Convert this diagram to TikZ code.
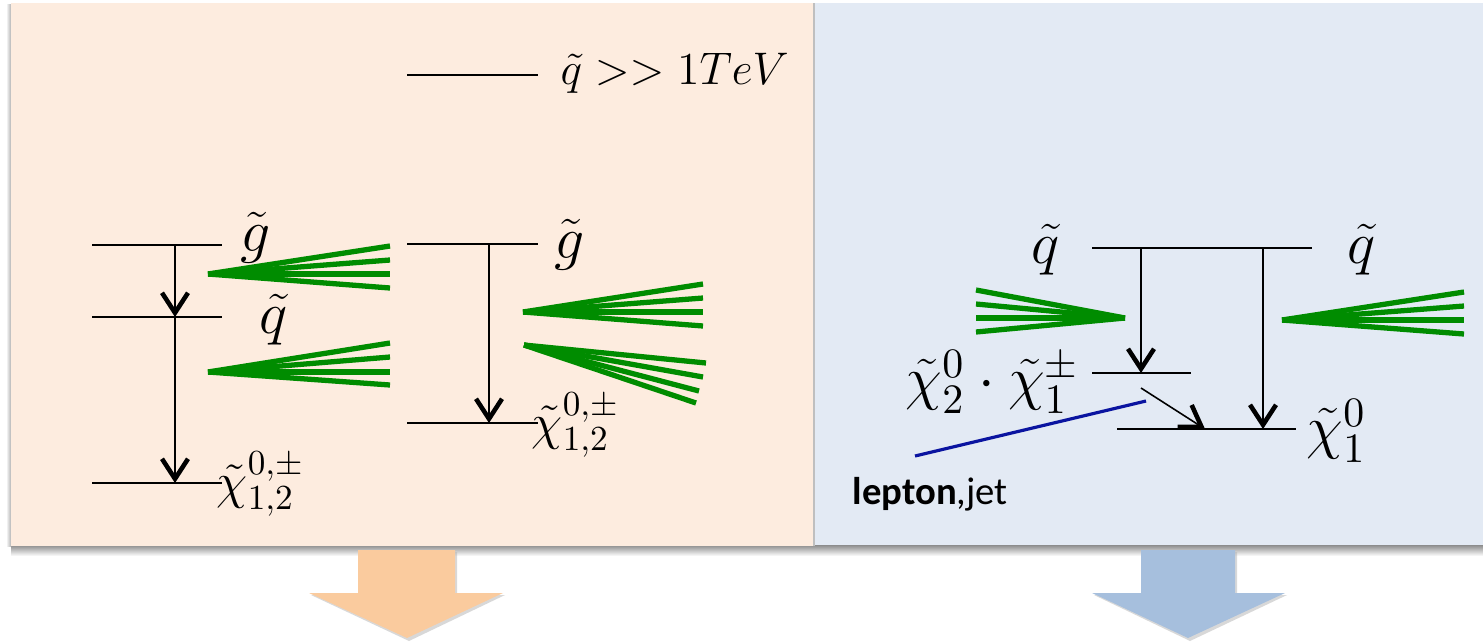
\RequirePackage{fix-cm}
\documentclass[tikz,border=0pt]{standalone}
\usepackage{fontspec}
\newfontfamily\calibri{Carlito}
\usetikzlibrary{arrows.meta,positioning}
\definecolor{peach}{RGB}{253,236,223}
\definecolor{paleblue}{RGB}{227,234,244}
\definecolor{orangearr}{RGB}{250,203,158}
\definecolor{bluearr}{RGB}{166,191,221}
\definecolor{jetgreen}{RGB}{0,140,0}
\definecolor{lepblue}{RGB}{10,20,160}

\begin{document}
\begin{tikzpicture}[
  x=0.01cm, y=-0.01cm,
  >={Straight Barb[length=2mm,width=2.6mm,line width=1.3pt]},
  lvl/.style  = {line width=0.6pt},
  dk/.style   = {->, line width=0.45pt},
  jet/.style  = {jetgreen, line width=1.5pt},
  mlbl/.style = {font=\fontsize{14.4}{16}\selectfont, inner sep=0pt},
  blbl/.style = {font=\fontsize{17}{19}\selectfont, inner sep=0pt},
  tlbl/.style = {font=\fontsize{13}{15}\selectfont, inner sep=0pt},
  slbl/.style = {font=\calibri\fontsize{11}{13}\selectfont, inner sep=0pt},
]
\useasboundingbox (0,0) rectangle (1483,642);

%% ---- panels and shadows --------------------------------------------------
\shade[top color=black!45, bottom color=white] (11,545) rectangle (1483,556);
\shade[left color=white, right color=black!30] (6,4) rectangle (11,546);
\fill[peach] (11,3) rectangle (813,546);
\fill[black!25] (813,3) rectangle (815,546);
\fill[paleblue] (815,3) rectangle (1483,545);

%% ---- big arrows ----------------------------------------------------------
\fill[black!30, opacity=0.5] (360,552) -- (457,552) -- (457,595) -- (505,595)
  -- (409,641) -- (311,595) -- (360,595) -- cycle;
\fill[orangearr] (358,550) -- (455,550) -- (455,593) -- (503,593)
  -- (407,638) -- (309,593) -- (358,593) -- cycle;
\fill[black!30, opacity=0.5] (1143,552) -- (1237,552) -- (1237,595) -- (1287,595)
  -- (1190,641) -- (1094,595) -- (1143,595) -- cycle;
\fill[bluearr] (1141,550) -- (1235,550) -- (1235,593) -- (1285,593)
  -- (1188,638) -- (1092,593) -- (1141,593) -- cycle;

%% ---- heavy squark --------------------------------------------------------
\draw[lvl] (407,75) -- (538,75);
\node[tlbl, anchor=west] (sqheavy) at (560,73) {$\tilde{q} >> 1TeV$};

%% ---- left cascade: gluino -> squark -> chargino/neutralino --------------
\coordinate (gl) at (175,245);
\coordinate (ql) at (175,317);
\coordinate (cl) at (175,483);
\draw[lvl] (92,245) -- (222,245);
\draw[lvl] (92,317) -- (222,317);
\draw[lvl] (92,483) -- (222,483);
\draw[dk] (gl) -- (ql);
\draw[dk] (ql) -- (cl);
\node[blbl] (glA) at (256,238) {$\tilde{g}$};
\node[blbl] (sqA) at (274,320) {$\tilde{q}$};
\node[mlbl, anchor=west] (chiA) at (216,484) {$\tilde{\chi}^{0,\pm}_{1,2}$};
\foreach \y in {246,260,274,288} \draw[jet] (208,274) -- (390,\y);
\foreach \y in {343,357,372,385} \draw[jet] (208,372) -- (390,\y);

%% ---- left cascade: gluino -> chargino/neutralino -------------------------
\coordinate (gr) at (489,244);
\coordinate (cr) at (489,423);
\draw[lvl] (407,244) -- (538,244);
\draw[lvl] (407,423) -- (538,423);
\draw[dk] (gr) -- (cr);
\node[blbl] (glB) at (570,245) {$\tilde{g}$};
\node[mlbl, anchor=west] (chiB) at (531,425) {$\tilde{\chi}^{0,\pm}_{1,2}$};
\foreach \y in {284,298,312,326} \draw[jet] (523,312) -- (703,\y);
\foreach \x/\y in {706/363,703/377,699/391,696/403} \draw[jet] (524,345) -- (\x,\y);

%% ---- right cascade: squark -> chi2/chi1 -> chi1^0 ------------------------
\coordinate (qa) at (1141,248);
\coordinate (qb) at (1263,248);
\coordinate (c2) at (1141,373);
\coordinate (c2s) at (1141,388);
\coordinate (c1) at (1263,429);
\coordinate (c1s) at (1205,429);
\draw[lvl] (1092,248) -- (1312,248);
\draw[lvl] (1092,373) -- (1191,373);
\draw[lvl] (1117,429) -- (1296,429);
\draw[dk] (qa) -- (c2);
\draw[dk] (qb) -- (c1);
\draw[dk] (c2s) -- (c1s);
\node[blbl] (sqL) at (1046,250) {$\tilde{q}$};
\node[blbl] (sqR) at (1362,250) {$\tilde{q}$};
\node[blbl, anchor=west] (chi2) at (905,382)
  {$\tilde{\chi}^{0}_{2}\cdot\tilde{\chi}^{\pm}_{1}$};
\node[blbl, anchor=west] (chi1) at (1306,431) {$\tilde{\chi}^{0}_{1}$};
\foreach \y in {290,304,318,332} \draw[jet] (1125,318) -- (976,\y);
\foreach \y in {292,306,320,334} \draw[jet] (1282,320) -- (1464,\y);
\draw[lepblue, line width=0.9pt] (1146,401) -- (915,456);
\node[slbl, anchor=west] (lep) at (852,494) {\textbf{lepton},jet};

\end{tikzpicture}
\end{document}
